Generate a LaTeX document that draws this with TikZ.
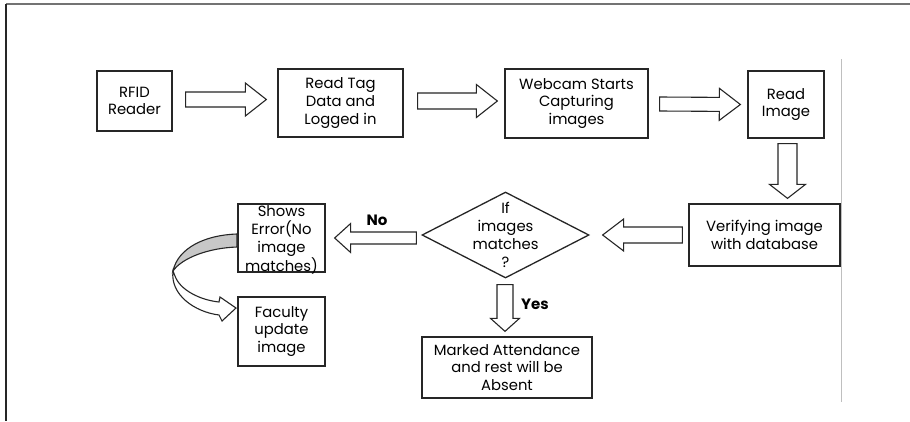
\documentclass[tikz,border=0pt]{standalone}
\usepackage{fontspec}
\setmainfont{Poppins}
\usetikzlibrary{calc,shapes.geometric}
\newcommand\blockarrow[5]{% start, end, shaft half, head half, head length
  \coordinate (hb) at ($(#2)!#5!(#1)$);
  \draw[barrowstyle] ($(#1)!#3!90:(#2)$) -- ($(hb)!#3!90:(#2)$) -- ($(hb)!#4!90:(#2)$) -- (#2)
     -- ($(hb)!#4!-90:(#2)$) -- ($(hb)!#3!-90:(#2)$) -- ($(#1)!#3!-90:(#2)$) -- cycle;
}
\begin{document}
\begin{tikzpicture}[x=1pt,y=-1pt,
  box/.style={draw=black!85,line width=1.3pt,align=center,inner sep=0pt,
    font=\fontsize{14.8}{17.8}\selectfont},
  txt/.style={align=center,inner sep=0pt,font=\fontsize{14.8}{17.8}\selectfont},
  barrowstyle/.style={draw=black!85,line width=1.1pt,fill=white,line join=miter},
  lbl/.style={inner sep=0pt,font=\fontsize{15}{16}\selectfont\bfseries}]
\useasboundingbox (0,0) rectangle (910,421);
\fill[white] (0,0) rectangle (910,421);
% frame
\draw[black!55,line width=1.5pt] (6,4) -- (910,4);
\draw[black!85,line width=1.5pt] (6,4) -- (6,421);
\draw[black!25,line width=0.9pt] (841,59) -- (841,402);

% boxes
\node[box,minimum width=75pt,minimum height=60pt] (rfid) at (134.5,101) {RFID\\Reader};
\node[box,minimum width=125pt,minimum height=68pt] (tag) at (340.5,103) {Read Tag\\Data and\\Logged in};
\node[box,minimum width=143pt,minimum height=69pt] (cam) at (576.5,103.5) {Webcam Starts\\Capturing\\images};
\node[box,minimum width=76pt,minimum height=67pt] (read) at (786,104.5) {Read\\Image};
\node[box,minimum width=151pt,minimum height=62pt] (verify) at (764.5,235) {Verifying image\\with database};
\node[draw=black!85,line width=1.3pt,diamond,minimum width=167pt,minimum height=86pt,inner sep=0pt] (dia) at (505.5,235) {};
\node[txt] (diatext) at (dia.center) {If\\images\\matches\\?};
\node[box,minimum width=87pt,minimum height=68pt] (err) at (281.5,238) {};
\node[txt] (errtext) at (281.5,240) {Shows\\Error(No\\image\\matches)};
\node[box,minimum width=87pt,minimum height=69pt] (fac) at (281.5,331.5) {Faculty\\update\\image};
\node[box,minimum width=170pt,minimum height=61pt] (mark) at (507,367.5) {Marked Attendance\\and rest will be\\Absent};

% arrow end points
\coordinate (a1s) at ($(rfid.east)+(13,-1.5)$);
\coordinate (a1e) at ($(tag.west)+(-11,-3.5)$);
\coordinate (a2s) at ($(tag.east)+(14,-2)$);
\coordinate (a2e) at ($(cam.west)+(-7,-2.5)$);
\coordinate (a3s) at ($(cam.east)+(11,0.5)$);
\coordinate (a3e) at ($(read.west)+(-7,0)$);
\coordinate (a4s) at ($(read.south)+(1.5,5)$);
\coordinate (a4e) at ($(verify.north)+(23,-5)$);
\coordinate (a5s) at ($(verify.west)+(-6,0)$);
\coordinate (a5e) at ($(dia.east)+(13,0)$);
\coordinate (a6s) at ($(dia.west)+(-5,3)$);
\coordinate (a6e) at ($(err.east)+(9,0)$);
\coordinate (a7s) at ($(dia.south)+(-0.5,6)$);
\coordinate (a7e) at ($(mark.north)+(-2,-5)$);

\blockarrow{a1s}{a1e}{7.5pt}{16.5pt}{21pt}
\blockarrow{a2s}{a2e}{8pt}{16.5pt}{21pt}
\blockarrow{a3s}{a3e}{7pt}{16pt}{21pt}
\blockarrow{a4s}{a4e}{9.5pt}{18pt}{14pt}
\blockarrow{a5s}{a5e}{8pt}{16pt}{21pt}
\blockarrow{a6s}{a6e}{6pt}{14.5pt}{16pt}
\blockarrow{a7s}{a7e}{8pt}{14.5pt}{13pt}

\node[lbl] (no) at (377,220) {No};
\node[lbl] (yes) at (535,304) {Yes};

% curved arrow from error box to faculty box
\draw[black!85,line width=1.1pt,fill=white,line join=miter]
  (173,271) .. controls (170,295) and (195,312) .. (219,315) -- (222,321) -- (236,308)
  -- (220,297) -- (219,302) .. controls (200,300) and (180,290) .. (175,276) -- cycle;
\draw[black!85,line width=1.1pt,fill=black!22]
  (237,234) .. controls (205,235) and (178,248) .. (173,271)
  .. controls (182,258) and (208,248) .. (237,247) -- cycle;
\end{tikzpicture}
\end{document}
